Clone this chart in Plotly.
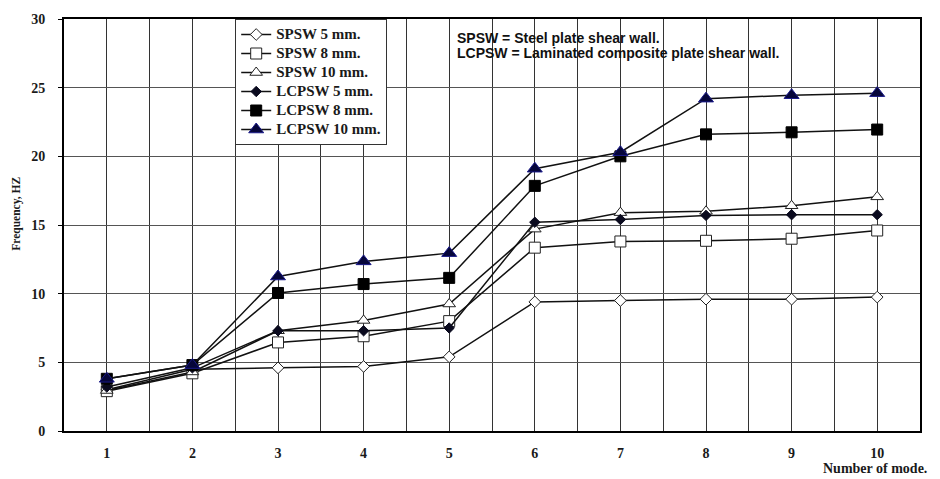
import plotly.graph_objects as go

modes = [1, 2, 3, 4, 5, 6, 7, 8, 9, 10]
x_tick_labels = ["1", "2", "3", "4", "5", "6", "7", "8", "9", "10"]
y_tick_vals = [0, 5, 10, 15, 20, 25, 30]

spsw_5 = [3.0, 4.5, 4.6, 4.7, 5.4, 9.4, 9.5, 9.6, 9.6, 9.75]
spsw_8 = [2.9, 4.2, 6.45, 6.9, 8.0, 13.35, 13.8, 13.85, 14.0, 14.6]
spsw_10 = [2.95, 4.3, 7.3, 8.05, 9.25, 14.7, 15.9, 16.0, 16.4, 17.05]
lcpsw_5 = [3.2, 4.6, 7.3, 7.3, 7.5, 15.2, 15.4, 15.7, 15.75, 15.75]
lcpsw_8 = [3.8, 4.8, 10.05, 10.7, 11.15, 17.85, 20.0, 21.6, 21.75, 21.95]
lcpsw_10 = [3.8, 4.8, 11.25, 12.35, 12.95, 19.1, 20.3, 24.2, 24.45, 24.6]

series_names = ["SPSW 5 mm.", "SPSW 8 mm.", "SPSW 10 mm.",
                "LCPSW 5 mm.", "LCPSW 8 mm.", "LCPSW 10 mm."]
series_values = [spsw_5, spsw_8, spsw_10, lcpsw_5, lcpsw_8, lcpsw_10]
styles = [
    dict(symbol="diamond", size=9, color="white", line=dict(color="#222", width=1)),
    dict(symbol="square", size=11, color="white", line=dict(color="#222", width=1)),
    dict(symbol="triangle-up", size=11, color="white", line=dict(color="#222", width=1)),
    dict(symbol="diamond", size=8, color="#0a0a1e", line=dict(color="#0a0a1e", width=1)),
    dict(symbol="square", size=11, color="#000000", line=dict(color="#000000", width=1)),
    dict(symbol="triangle-up", size=13, color="#06063a", line=dict(color="#1a1a8a", width=1)),
]

serif = "Liberation Serif"
fig = go.Figure()
for name, vals, st in zip(series_names, series_values, styles):
    fig.add_trace(go.Scatter(
        x=modes, y=vals,
        name='<span style="font-size:15px">' + name + "</span>",
        mode="lines+markers",
        line=dict(color="#111", width=1.5),
        marker=st,
    ))

fig.update_layout(
    width=940, height=479,
    margin=dict(l=64, r=20, t=15, b=48),
    paper_bgcolor="white", plot_bgcolor="white",
    showlegend=True,
    legend=dict(
        x=0.2, y=1.0, xanchor="left", yanchor="top",
        bgcolor="white", bordercolor="#333", borderwidth=1,
        font=dict(family=serif, size=11, color="#1a1a1a", weight="bold"),
        itemwidth=30, tracegroupgap=0,
    ),
    xaxis=dict(
        range=[0.5, 10.5], tickvals=modes, ticktext=x_tick_labels,
        showgrid=True, gridcolor="#333", gridwidth=1,
        minor=dict(dtick=0.5, tick0=0.5, showgrid=True, gridcolor="#333", gridwidth=1),
        showline=True, linecolor="#000", linewidth=2, mirror=True,
        ticks="", zeroline=False, ticklabelstandoff=8,
        tickfont=dict(family=serif, size=14, color="#1a1a1a", weight="bold"),
    ),
    yaxis=dict(
        range=[0, 30], tickvals=y_tick_vals,
        showgrid=True, gridcolor="#555", gridwidth=1,
        showline=True, linecolor="#000", linewidth=2, mirror=True,
        ticks="outside", ticklen=4, tickcolor="#000", zeroline=False,
        ticklabelstandoff=10,
        tickfont=dict(family=serif, size=14, color="#1a1a1a", weight="bold"),
    ),
    annotations=[
        dict(text="SPSW = Steel plate shear wall.", xref="paper", yref="paper",
             x=0.457, y=0.955, xanchor="left", yanchor="middle", showarrow=False,
             font=dict(family="Liberation Sans", size=14, color="#111", weight="bold")),
        dict(text="LCPSW = Laminated composite plate shear wall.", xref="paper", yref="paper",
             x=0.457, y=0.917, xanchor="left", yanchor="middle", showarrow=False,
             font=dict(family="Liberation Sans", size=14, color="#111", weight="bold")),
        dict(text="Frequency, HZ", xref="paper", yref="paper", textangle=-90,
             x=-0.055, y=0.527, xanchor="center", yanchor="middle", showarrow=False,
             font=dict(family=serif, size=11.5, color="#1a1a1a", weight="bold")),
        dict(text="Number of mode.", xref="paper", yref="paper",
             x=0.948, y=-0.0913, xanchor="center", yanchor="middle", showarrow=False,
             font=dict(family=serif, size=14, color="#1a1a1a", weight="bold")),
    ],
)

# remove the page's default body margin so the figure fills the 940x479 window
fig.write_html("out.html", config={"displayModeBar": False},
               post_script="document.body.style.margin='0';")
